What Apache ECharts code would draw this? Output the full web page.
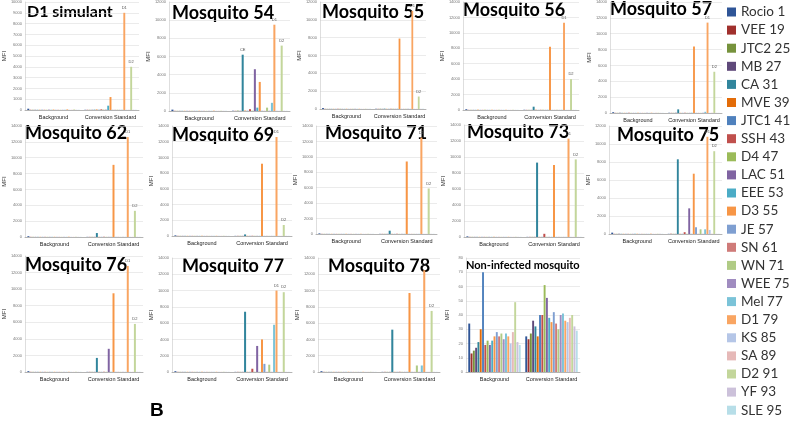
<!DOCTYPE html>
<html><head><meta charset="utf-8">
<script src="https://cdn.jsdelivr.net/npm/echarts@6/dist/echarts.min.js"></script>
<style>html,body{margin:0;padding:0;background:#fff}#c{width:800px;height:427px}</style>
</head><body><div id="c"></div>
<script>
const categories = ['Background', 'Conversion Standard'];
const seriesNames = ['Rocio 1','VEE 19','JTC2 25','MB 27','CA 31','MVE 39','JTC1 41','SSH 43','D4 47','LAC 51','EEE 53','D3 55','JE 57','SN 61','WN 71','WEE 75','Mel 77','D1 79','KS 85','SA 89','D2 91','YF 93','SLE 95'];
const seriesColors = ['#2F5597','#A0302D','#76923C','#5F497A','#31859C','#E36C09','#4F81BD','#C0504D','#9BBB59','#8064A2','#4BACC6','#F79646','#7F9FD1','#CF7B79','#B0CB85','#A08CC0','#7BC3D8','#F9A562','#B5C6E7','#E6B9B8','#C3D69B','#CCC1DA','#B7DEE8'];

// values per series (order of seriesNames): Background group, Conversion Standard group
const d1SimulantBg = [120,20,20,20,20,20,20,20,20,30,20,40,20,20,20,20,20,60,20,20,50,20,20];
const d1SimulantCs = [20,20,20,20,30,40,20,60,30,30,400,1200,20,20,30,20,30,9000,20,20,4000,20,20];
const mosq54Bg = [150,20,20,20,20,20,20,20,20,20,20,30,20,20,20,20,20,40,20,20,30,20,20];
const mosq54Cs = [30,20,40,20,6200,40,30,200,30,4600,370,3200,30,20,370,30,900,9500,30,20,7200,20,20];
const mosq55Bg = [100,20,20,20,20,20,20,30,20,20,20,30,20,20,20,20,20,30,20,20,30,20,20];
const mosq55Cs = [40,20,30,20,40,20,20,20,20,20,30,7900,20,20,20,20,20,11000,20,20,1400,20,20];
const mosq56Bg = [100,20,20,20,20,20,20,20,20,20,20,30,20,20,20,20,20,30,20,20,30,20,20];
const mosq56Cs = [30,20,20,20,430,20,20,30,20,20,30,8200,20,20,20,20,30,11300,20,20,4000,20,20];
const mosq57Bg = [100,20,20,20,20,20,20,20,20,20,20,30,20,20,20,20,20,40,20,20,30,20,20];
const mosq57Cs = [30,20,20,20,460,20,20,30,20,20,30,8400,20,20,20,20,150,11400,20,20,5200,20,20];
const mosq62Bg = [100,20,20,20,20,20,20,20,20,20,20,30,20,20,20,20,20,40,20,20,30,20,20];
const mosq62Cs = [20,20,20,20,500,20,20,30,20,20,20,9100,20,20,20,20,20,12600,20,20,3300,20,20];
const mosq69Bg = [80,20,20,20,20,20,20,20,20,20,20,30,20,20,20,20,20,30,20,20,30,20,20];
const mosq69Cs = [20,20,20,20,200,20,20,30,20,20,20,9200,20,20,20,20,20,12600,20,20,1400,20,20];
const mosq71Bg = [80,20,20,20,20,20,20,20,20,20,20,30,20,20,20,20,20,30,20,20,30,20,20];
const mosq71Cs = [20,20,20,20,430,20,20,30,20,20,20,9400,20,20,20,20,20,12500,20,20,5900,20,20];
const mosq73Bg = [80,20,20,20,20,20,20,20,20,20,20,30,20,20,20,20,20,30,20,20,30,20,20];
const mosq73Cs = [20,20,20,20,9300,20,20,400,20,20,20,9000,20,20,20,20,20,12300,20,20,9700,20,20];
const mosq75Bg = [150,20,20,20,20,20,20,20,20,20,20,30,20,20,20,20,20,40,20,20,30,20,20];
const mosq75Cs = [20,20,20,20,8300,20,20,200,20,2850,20,6700,750,20,520,20,520,10800,450,20,9200,20,20];
const mosq76Bg = [100,20,20,20,20,20,20,20,20,20,20,30,20,20,20,20,20,30,20,20,30,20,20];
const mosq76Cs = [20,20,20,20,1700,20,20,30,20,2800,20,9500,20,20,20,20,20,12800,20,20,5800,20,20];
const mosq77Bg = [100,20,20,20,20,20,20,20,20,20,20,30,20,20,20,20,20,30,20,20,30,20,20];
const mosq77Cs = [20,20,20,20,7400,20,20,400,20,3200,20,4000,1000,20,900,20,5800,10000,20,20,9800,20,20];
const mosq78Bg = [100,20,20,20,20,20,20,20,20,20,20,30,20,20,20,20,20,30,20,20,30,20,20];
const mosq78Cs = [20,20,20,20,5200,20,20,30,20,20,20,9700,20,20,800,20,800,12500,20,20,7500,20,20];
const nonInfectedBg = [34,13,15,17,21,30,70,19,22,19,22,25,28,25,27,23,27,25,20,28,49,21,19];
const nonInfectedCs = [25,23,27,36,32,25,40,40,61,52,38,35,42,34,30,40,41,36,35,38,40,32,29];

const panels = [
  {title:'D1 simulant', bg:d1SimulantBg, cs:d1SimulantCs, max:10000, step:1000, box:[25,2,139,110], t:[27,12], labels:{17:'D1',20:'D2'}, fs:16},
  {title:'Mosquito 54', bg:mosq54Bg, cs:mosq54Cs, max:12000, step:2000, box:[169,2,290,111], t:[172,13], labels:{4:'CE',17:'D1',20:'D2'}},
  {title:'Mosquito 55', bg:mosq55Bg, cs:mosq55Cs, max:12000, step:2000, box:[320,2,426,109], t:[322,12], labels:{17:'D1',20:'D2'}},
  {title:'Mosquito 56', bg:mosq56Bg, cs:mosq56Cs, max:14000, step:2000, box:[463,1,579,110], t:[463,10], labels:{17:'D1',20:'D2'}},
  {title:'Mosquito 57', bg:mosq57Bg, cs:mosq57Cs, max:14000, step:2000, box:[610,1,722,113], t:[610,9], labels:{17:'D1',20:'D2'}},
  {title:'Mosquito 62', bg:mosq62Bg, cs:mosq62Cs, max:14000, step:2000, box:[23,126,143,237], t:[25,133], labels:{17:'D1',20:'D2'}},
  {title:'Mosquito 69', bg:mosq69Bg, cs:mosq69Cs, max:14000, step:2000, box:[172,126,292,236], t:[172,135], labels:{17:'D1',20:'D2'}},
  {title:'Mosquito 71', bg:mosq71Bg, cs:mosq71Cs, max:14000, step:2000, box:[316,126,437,234], t:[325,133], labels:{17:'D1',20:'D2'}},
  {title:'Mosquito 73', bg:mosq73Bg, cs:mosq73Cs, max:14000, step:2000, box:[464,125,584,237], t:[467,132], labels:{17:'D1',20:'D2'}},
  {title:'Mosquito 75', bg:mosq75Bg, cs:mosq75Cs, max:12000, step:2000, box:[609,126,722,234], t:[617,135], labels:{17:'D1',20:'D2'}},
  {title:'Mosquito 76', bg:mosq76Bg, cs:mosq76Cs, max:14000, step:2000, box:[23,256,143,372], t:[25,265], labels:{17:'D1',20:'D2'}},
  {title:'Mosquito 77', bg:mosq77Bg, cs:mosq77Cs, max:14000, step:2000, box:[172,258,292,372], t:[182,266], labels:{17:'D1',20:'D2'}},
  {title:'Mosquito 78', bg:mosq78Bg, cs:mosq78Cs, max:14000, step:2000, box:[318,258,440,372], t:[328,266], labels:{17:'D1',20:'D2'}},
  {title:'Non-infected mosquito', bg:nonInfectedBg, cs:nonInfectedCs, max:80, step:10, box:[466,258,580,372], t:[466,265], labels:{}, fs:11}
];

const grid = [], xAxis = [], yAxis = [], series = [], graphic = [];
panels.forEach((p, k) => {
  const [l, t, r, b] = p.box;
  grid.push({left:l, top:t, width:r-l, height:b-t, containLabel:false});
  xAxis.push({type:'category', gridIndex:k, data:categories,
    axisLine:{lineStyle:{color:'#a6a6a6', width:0.8}}, axisTick:{show:false},
    axisLabel:{interval:0, fontSize:5.5, color:'#222', fontFamily:'Liberation Sans', margin:4}});
  yAxis.push({type:'value', gridIndex:k, min:0, max:p.max, interval:p.step,
    name:'MFI', nameLocation:'middle', nameRotate:90, nameGap:16,
    nameTextStyle:{fontSize:6, color:'#333', fontFamily:'Liberation Sans'},
    axisLine:{show:true, lineStyle:{color:'#c8c8c8', width:0.6}}, axisTick:{show:false},
    axisLabel:{fontSize:4, color:'#777', margin:3, fontFamily:'Liberation Sans', formatter:v => String(v)},
    splitLine:{lineStyle:{color:'#dedede', width:0.6}}});
  seriesNames.forEach((name, i) => {
    const csItem = {value:p.cs[i]};
    if (p.labels[i]) csItem.label = {show:true, position:'top', formatter:p.labels[i], fontSize:4, color:'#555', distance:3};
    series.push({type:'bar', name, xAxisIndex:k, yAxisIndex:k, data:[p.bg[i], csItem],
      itemStyle:{color:seriesColors[i]}, barGap:'20%', barCategoryGap:'8%', silent:true, animation:false});
  });
  graphic.push({type:'text', x:p.t[0], y:p.t[1], style:{text:p.title, font:'bold ' + (p.fs || 18) + 'px Lato', fill:'#000', align:'left', verticalAlign:'middle'}});
});
graphic.push({type:'text', x:150, y:411, style:{text:'B', font:'bold 19px Liberation Sans', fill:'#000', align:'left', verticalAlign:'middle'}});

const chart = echarts.init(document.getElementById('c'), null, {renderer:'canvas'});
chart.setOption({
  animation:false,
  backgroundColor:'#fff',
  grid, xAxis, yAxis, series, graphic,
  legend:{data:seriesNames, orient:'vertical', left:722, top:0, icon:'rect', itemWidth:9, itemHeight:9, itemGap:4.1,
    textStyle:{fontSize:13.5, color:'#333', fontFamily:'Lato', padding:[0,0,0,0]}, selectedMode:false}
});
</script></body></html>
